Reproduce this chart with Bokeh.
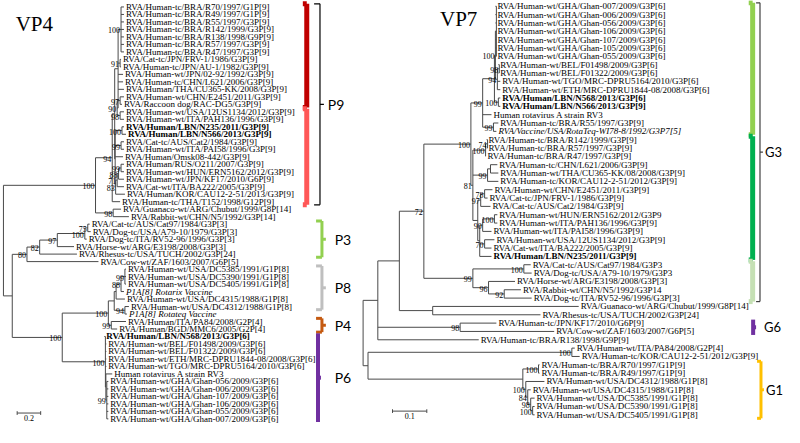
from bokeh.plotting import figure
from bokeh.models import Range1d, ColumnDataSource
from bokeh.embed import file_html
from bokeh.resources import INLINE
from bokeh.core.properties import value

# ---------------- VP4 tree data ----------------
# tips: (label, parent node, depth from root in substitutions/site, font style)
VP4_TIPS = [
    ("RVA/Human-tc/BRA/R70/1997/G1P[9]", "Nbra", 1.025, "normal"),
    ("RVA/Human-tc/BRA/R49/1997/G1P[9]", "Nbra", 1.025, "normal"),
    ("RVA/Human-tc/BRA/R55/1997/G3P[9]", "Nbra", 1.025, "normal"),
    ("RVA/Human-tc/BRA/R142/1999/G3P[9]", "Nbra", 1.025, "normal"),
    ("RVA/Human-tc/BRA/R138/1998/G9P[9]", "Nbra", 1.025, "normal"),
    ("RVA/Human-tc/BRA/R57/1997/G3P[9]", "Nbra", 1.025, "normal"),
    ("RVA/Human-tc/BRA/R47/1997/G3P[9]", "Nbra", 1.025, "normal"),
    ("RVA/Cat-tc/JPN/FRV-1/1986/G3P[9]", "N91", 1.0, "normal"),
    ("RVA/Human-tc/JPN/AU-1/1982/G3P[9]", "N91", 1.0, "normal"),
    ("RVA/Human-wt/JPN/02-92/1992/G3P[9]", "Nup", 1.017, "normal"),
    ("RVA/Human-tc/CHN/L621/2006/G3P[9]", "Nup", 1.017, "normal"),
    ("RVA/Human/THA/CU365-KK/2008/G3P[9]", "Nup", 1.025, "normal"),
    ("RVA/Human-wt/CHN/E2451/2011/G3P[9]", "N97", 1.025, "normal"),
    ("RVA/Raccoon dog/RAC-DG5/G3P[9]", "N97", 1.008, "normal"),
    ("RVA/Human-wt/USA/12US1134/2012/G3P[9]", "N98", 1.025, "normal"),
    ("RVA/Human-wt/ITA/PAH136/1996/G3P[9]", "N98", 1.025, "normal"),
    ("RVA/Human/LBN/N235/2011/G3P[9]", "Nlbn", 1.025, "bold"),
    ("RVA/Human/LBN/N566/2013/G3P[9]", "Nlbn", 1.042, "bold"),
    ("RVA/Cat-tc/AUS/Cat2/1984/G3P[9]", "N99c", 1.025, "normal"),
    ("RVA/Human-wt/ITA/PAI58/1996/G3P[9]", "N99c", 1.025, "normal"),
    ("RVA/Human/Omsk08-442/G3P[9]", "Nlow", 1.017, "normal"),
    ("RVA/Human/RUS/O211/2007/G3P[9]", "N99d", 1.025, "normal"),
    ("RVA/Human-wt/HUN/ERN5162/2012/G3P[9]", "N99d", 1.025, "normal"),
    ("RVA/Human-wt/JPN/KF17/2010/G6P[9]", "N88", 1.025, "normal"),
    ("RVA/Cat-wt/ITA/BA222/2005/G3P[9]", "N71", 1.025, "normal"),
    ("RVA/Human/KOR/CAU12-2-51/2013/G3P[9]", "N83", 1.033, "normal"),
    ("RVA/Human-tc/THA/T152/1998/G12P[9]", "P9", 0.992, "normal"),
    ("RVA/Guanaco-wt/ARG/Chubut/1999/G8P[14]", "Ngr", 1.0, "normal"),
    ("RVA/Rabbit-wt/CHN/N5/1992/G3P[14]", "Ngr", 1.067, "normal"),
    ("RVA/Cat-tc/AUS/Cat97/1984/G3P[3]", "N75", 0.733, "normal"),
    ("RVA/Dog-tc/USA/A79-10/1979/G3P[3]", "N75", 0.742, "normal"),
    ("RVA/Dog-tc/ITA/RV52-96/1996/G3P[3]", "N100p", 0.708, "normal"),
    ("RVA/Horse-wt/ARG/E3198/2008/G3P[3]", "N97p", 0.6, "normal"),
    ("RVA/Rhesus-tc/USA/TUCH/2002/G3P[24]", "N82", 0.625, "normal"),
    ("RVA/Cow-wt/ZAF/1603/2007/G6P[5]", "N80", 0.808, "normal"),
    ("RVA/Human-wt/USA/DC5385/1991/G1P[8]", "N99a", 1.042, "normal"),
    ("RVA/Human-wt/USA/DC5390/1991/G1P[8]", "N99a", 1.042, "normal"),
    ("RVA/Human-wt/USA/DC5405/1991/G1P[8]", "N99a", 1.042, "normal"),
    ("P1A[8] Rotarix Vaccine", "N88p", 1.025, "italic"),
    ("RVA/Human-wt/USA/DC4315/1988/G1P[8]", "Na", 1.033, "normal"),
    ("RVA/Human-wt/USA/DC4312/1988/G1P[8]", "N94p", 1.067, "normal"),
    ("P1A[8] Rotateq Vaccine", "N94p", 1.05, "italic"),
    ("RVA/Human/ITA/PA84/2008/G2P[4]", "NP4", 1.042, "normal"),
    ("RVA/Human/BGD/MMC6/2005/G2P[4]", "NP4", 0.967, "normal"),
    ("RVA/Human/LBN/N568/2013/G3P[6]", "NP6", 0.858, "bold"),
    ("RVA/Human-wt/BEL/F01498/2009/G3P[6]", "NP6", 0.875, "normal"),
    ("RVA/Human-wt/BEL/F01322/2009/G3P[6]", "NP6", 0.875, "normal"),
    ("RVA/Human-wt/ETH/MRC-DPRU1844-08/2008/G3P[6]", "NP6", 0.875, "normal"),
    ("RVA/Human-wt/TGO/MRC-DPRU5164/2010/G3P[6]", "NP6", 0.875, "normal"),
    ("Human rotavirus A strain RV3", "Nrv", 0.925, "normal"),
    ("RVA/Human-wt/GHA/Ghan-056/2009/G3P[6]", "N99g", 0.892, "normal"),
    ("RVA/Human-wt/GHA/Ghan-006/2009/G3P[6]", "N99g", 0.892, "normal"),
    ("RVA/Human-wt/GHA/Ghan-107/2009/G3P[6]", "N99g", 0.892, "normal"),
    ("RVA/Human-wt/GHA/Ghan-106/2009/G3P[6]", "N99g", 0.892, "normal"),
    ("RVA/Human-wt/GHA/Ghan-055/2009/G3P[6]", "N99g", 0.892, "normal"),
    ("RVA/Human-wt/GHA/Ghan-007/2009/G3P[6]", "N99g", 0.892, "normal"),
]

# internal nodes: (name, parent, depth, bootstrap support)
VP4_NODES = [
    ("root", None, 0.0, None),
    ("A", "root", 0.783, "100"),
    ("P9", "A", 0.925, "94"),
    ("P9m", "P9", 0.946, None),
    ("Nup", "P9m", 0.975, None),
    ("Nbra", "Nup", 1.0, "100"),
    ("N91", "Nup", 0.992, "91"),
    ("N90", "Nup", 0.967, "90"),
    ("N97", "N90", 0.992, "97"),
    ("N98", "N90", 0.992, "98"),
    ("Nlow", "P9m", 0.95, None),
    ("Nlbn", "Nlow", 1.008, "100"),
    ("N99c", "Nlow", 1.0, "99"),
    ("N83", "Nlow", 0.954, "83"),
    ("N71", "N83", 0.967, "71"),
    ("N88", "N71", 0.979, "88"),
    ("N99d", "N88", 1.0, "99"),
    ("Ngr", "A", 0.933, "98"),
    ("B", "root", 0.075, None),
    ("N80", "B", 0.2, "80"),
    ("N82", "N80", 0.308, "82"),
    ("N97p", "N82", 0.458, "97"),
    ("N100p", "N97p", 0.692, "100"),
    ("N75", "N100p", 0.717, "75"),
    ("N100c", "B", 0.5, "100"),
    ("N100b", "N100c", 0.892, "100"),
    ("NP8", "N100b", 0.942, None),
    ("Na", "NP8", 0.958, None),
    ("N88p", "Na", 1.0, "88"),
    ("N99a", "N88p", 1.033, "99"),
    ("N94p", "NP8", 1.033, "94"),
    ("NP4", "N100b", 0.917, "99"),
    ("NP6", "N100c", 0.867, "100"),
    ("Nrv", "NP6", 0.871, None),
    ("N99g", "Nrv", 0.879, "99"),
]

# clade marks: (first tip, last tip, colour, kind, label)
VP4_CLADES = [
    (0, 13, "#C00000", "bar", None),
    (14, 26, "#FF5757", "bar", None),
    (0, 26, "#000000", "bracket", "P9"),
    (29, 33, "#92D050", "brace", "P3"),
    (35, 40, "#BFBFBF", "brace", "P8"),
    (42, 43, "#C55A11", "brace", "P4"),
    (44, 55, "#7030A0", "pbar", "P6"),
]
VP4_SCALE = 0.2

# ---------------- VP7 tree data ----------------
VP7_TIPS = [
    ("RVA/Human-wt/GHA/Ghan-007/2009/G3P[6]", "NG", 0.3857, "normal"),
    ("RVA/Human-wt/GHA/Ghan-006/2009/G3P[6]", "NG", 0.3857, "normal"),
    ("RVA/Human-wt/GHA/Ghan-056/2009/G3P[6]", "NG", 0.3857, "normal"),
    ("RVA/Human-wt/GHA/Ghan-106/2009/G3P[6]", "NG", 0.3857, "normal"),
    ("RVA/Human-wt/GHA/Ghan-107/2009/G3P[6]", "NG", 0.3857, "normal"),
    ("RVA/Human-wt/GHA/Ghan-105/2009/G3P[6]", "NG", 0.3857, "normal"),
    ("RVA/Human-wt/GHA/Ghan-055/2009/G3P[6]", "NG", 0.3857, "normal"),
    ("RVA/Human-wt/BEL/F01498/2009/G3P[6]", "N98", 0.3943, "normal"),
    ("RVA/Human-wt/BEL/F01322/2009/G3P[6]", "N98", 0.3943, "normal"),
    ("RVA/Human-wt/TGO/MRC-DPRU5164/2010/G3P[6]", "N94", 0.4, "normal"),
    ("RVA/Human-wt/ETH/MRC-DPRU1844-08/2008/G3P[6]", "N94", 0.4, "normal"),
    ("RVA/Human/LBN/N568/2013/G3P[6]", "N100L", 0.4, "bold"),
    ("RVA/Human/LBN/N566/2013/G3P[9]", "N100L", 0.4, "bold"),
    ("Human rotavirus A strain RV3", "N99", 0.3743, "normal"),
    ("RVA/Human-tc/BRA/R55/1997/G3P[9]", "N99r", 0.3943, "normal"),
    ("RVA/Vaccine/USA/RotaTeq-WI78-8/1992/G3P7[5]", "N99r", 0.3886, "italic"),
    ("RVA/Human-tc/BRA/R142/1999/G3P[9]", "N74", 0.36, "normal"),
    ("RVA/Human-tc/BRA/R57/1997/G3P[9]", "N74", 0.36, "normal"),
    ("RVA/Human-tc/BRA/R47/1997/G3P[9]", "N100br", 0.3571, "normal"),
    ("RVA/Human-tc/CHN/L621/2006/G3P[9]", "Nlc", 0.3914, "normal"),
    ("RVA/Human-wt/THA/CU365-KK/08/2008/G3P[9]", "Nlc", 0.3943, "normal"),
    ("RVA/Human-tc/KOR/CAU12-2-51/2012/G3P[9]", "N99c", 0.3943, "normal"),
    ("RVA/Human-wt/CHN/E2451/2011/G3P[9]", "N78", 0.3771, "normal"),
    ("RVA/Cat-tc/JPN/FRV-1/1986/G3P[9]", "N78", 0.3629, "normal"),
    ("RVA/Cat-tc/AUS/Cat2/1984/G3P[9]", "N97", 0.3714, "normal"),
    ("RVA/Human-wt/HUN/ERN5162/2012/G3P9", "N100e", 0.3914, "normal"),
    ("RVA/Human-wt/ITA/PAH136/1996/G3P[9]", "N100e", 0.3914, "normal"),
    ("RVA/Human-wt/ITA/PAI58/1996/G3P[9]", "N90", 0.3743, "normal"),
    ("RVA/Human-wt/USA/12US1134/2012/G3P[9]", "N70", 0.3829, "normal"),
    ("RVA/Cat-wt/ITA/BA222/2005/G3P[9]", "N70", 0.3743, "normal"),
    ("RVA/Human/LBN/N235/2011/G3P[9]", "NlowG3", 0.3743, "bold"),
    ("RVA/Cat-tc/AUS/Cat97/1984/G3P3", "N100p3", 0.4886, "normal"),
    ("RVA/Dog-tc/USA/A79-10/1979/G3P3", "N100p3", 0.4914, "normal"),
    ("RVA/Horse-wt/ARG/E3198/2008/G3P[3]", "N96", 0.4429, "normal"),
    ("RVA/Rabbit-wt/CHN/N5/1992/G3P14", "N92", 0.46, "normal"),
    ("RVA/Dog-tc/ITA/RV52-96/1996/G3P[3]", "N92", 0.4914, "normal"),
    ("RVA/Guanaco-wt/ARG/Chubut/1999/G8P[14]", "Ngr7", 0.6286, "normal"),
    ("RVA/Rhesus-tc/USA/TUCH/2002/G3P[24]", "Ngr7", 0.5171, "normal"),
    ("RVA/Human-tc/JPN/KF17/2010/G6P[9]", "N98g6", 0.3886, "normal"),
    ("RVA/Cow-wt/ZAF/1603/2007/G6P[5]", "N98g6", 0.5571, "normal"),
    ("RVA/Human-tc/BRA/R138/1998/G9P[9]", "Nup", 0.3371, "normal"),
    ("RVA/Human-wt/ITA/PA84/2008/G2P[4]", "N100g2", 0.6171, "normal"),
    ("RVA/Human-tc/KOR/CAU12-2-51/2012/G3P[9]", "N100g2", 0.6314, "normal"),
    ("RVA/Human-tc/BRA/R70/1997/G1P[9]", "N100r", 0.5143, "normal"),
    ("RVA/Human-tc/BRA/R49/1997/G1P[9]", "N100r", 0.5143, "normal"),
    ("RVA/Human-wt/USA/DC4312/1988/G1P[8]", "N100c7", 0.5286, "normal"),
    ("RVA/Human-wt/USA/DC4315/1988/G1P[8]", "N84", 0.4886, "normal"),
    ("RVA/Human-wt/USA/DC5385/1991/G1P[8]", "N98d", 0.5, "normal"),
    ("RVA/Human-wt/USA/DC5390/1991/G1P[8]", "N100d", 0.5, "normal"),
    ("RVA/Human-wt/USA/DC5405/1991/G1P[8]", "N100d", 0.5, "normal"),
]

VP7_NODES = [
    ("root", None, 0.0, None),
    ("Nup", "root", 0.0429, None),
    ("Na7", "Nup", 0.1057, None),
    ("N72", "Na7", 0.1771, "72"),
    ("N100big", "N72", 0.3143, "100"),
    ("N99", "N100big", 0.3486, "99"),
    ("NG3P6", "N99", 0.3829, None),
    ("NG3P6a", "NG3P6", 0.3857, "100"),
    ("NG", "NG3P6a", 0.3886, None),
    ("N94", "NG3P6a", 0.3914, "94"),
    ("N98", "N94", 0.3971, "98"),
    ("N100L", "NG3P6", 0.3943, "100"),
    ("N99r", "N99", 0.38, "99"),
    ("N81", "N100big", 0.32, "81"),
    ("N100br", "N81", 0.3571, "100"),
    ("N74", "N100br", 0.3629, "74"),
    ("N99c", "N81", 0.3629, "99"),
    ("Nlc", "N99c", 0.3714, None),
    ("NG3mid", "N81", 0.3343, None),
    ("N97", "NG3mid", 0.3429, "97"),
    ("N78", "N97", 0.3543, "78"),
    ("NlowG3", "NG3mid", 0.34, None),
    ("N90", "NlowG3", 0.3486, "90"),
    ("N100e", "N90", 0.3829, "100"),
    ("N70", "NlowG3", 0.3543, "70"),
    ("N99p", "N72", 0.32, "99"),
    ("N100p3", "N99p", 0.4686, "100"),
    ("N96", "N99p", 0.3657, "96"),
    ("N92", "N96", 0.4114, "92"),
    ("Ngr7", "Na7", 0.2029, None),
    ("N98g6", "Nup", 0.2829, "98"),
    ("Nlow7", "root", 0.0143, None),
    ("N100g2", "Nlow7", 0.6086, "100"),
    ("NG1", "Nlow7", 0.4657, None),
    ("N100r", "NG1", 0.5114, "100"),
    ("N100c7", "NG1", 0.4743, "100"),
    ("N84", "N100c7", 0.48, "84"),
    ("N98d", "N84", 0.4886, "98"),
    ("N100d", "N98d", 0.4943, "100"),
]

VP7_CLADES = [
    (0, 15, "#92D050", "bar", None),
    (16, 30, "#00B050", "bar", None),
    (31, 35, "#C5E0B4", "bar", None),
    (0, 35, "#404040", "bracket", "G3"),
    (38, 39, "#7030A0", "pbar", "G6"),
    (43, 49, "#FFC000", "brace", "G1"),
]
VP7_SCALE = 0.1

# ---------------- page geometry (reference px -> tree units) ----------------
W, H = 784, 427
VP4_ROOT_PX, VP4_PX_PER_UNIT = 3.0, 120.0
VP7_ROOT_PX, VP7_PX_PER_UNIT = 370.0, 350.0
VP4_Y0, VP4_DY = 6.7, 7.77
VP7_Y0, VP7_DY = 6.0, 8.65


def ux(px, root, ppu):
    return (px - root) / ppu


def uy(py, y0, dy):
    return (py - y0) / dy


p = figure(width=W, height=H, output_backend="svg", toolbar_location=None,
           title=None, min_border=0, x_axis_location=None, y_axis_location=None,
           x_range=Range1d(ux(0, VP4_ROOT_PX, VP4_PX_PER_UNIT), ux(800, VP4_ROOT_PX, VP4_PX_PER_UNIT)),
           y_range=Range1d(uy(443, VP4_Y0, VP4_DY), uy(0, VP4_Y0, VP4_DY)))
p.extra_x_ranges = {"vp7": Range1d(ux(0, VP7_ROOT_PX, VP7_PX_PER_UNIT), ux(800, VP7_ROOT_PX, VP7_PX_PER_UNIT))}
p.extra_y_ranges = {"vp7": Range1d(uy(443, VP7_Y0, VP7_DY), uy(0, VP7_Y0, VP7_DY))}
p.grid.visible = False
p.outline_line_color = None
p.background_fill_color = "white"
p.border_fill_color = "white"

SERIF = value("Liberation Serif")
SANS = value("Lato")
LINE = "#4a4a4a"


def build(tips, nodes):
    depth, parent, ypos, children = {}, {}, {}, {}
    for name, par, d, sup in nodes:
        depth[name] = d
        parent[name] = par
        if par is not None:
            children.setdefault(par, []).append(name)
    for i, (lab, par, d, sty) in enumerate(tips):
        key = ("tip", i)
        depth[key] = d
        parent[key] = par
        ypos[key] = float(i)
        children.setdefault(par, []).append(key)

    def gety(k):
        if k not in ypos:
            ys = [gety(c) for c in children[k]]
            ypos[k] = (min(ys) + max(ys)) / 2.0
        return ypos[k]

    for name, *_ in nodes:
        gety(name)
    x0, y0, x1, y1 = [], [], [], []
    for k, par in parent.items():
        if par is None:
            continue
        x0.append(depth[par]); x1.append(depth[k]); y0.append(ypos[k]); y1.append(ypos[k])
    for name, ch in children.items():
        ys = [ypos[c] for c in ch]
        x0.append(depth[name]); x1.append(depth[name]); y0.append(min(ys)); y1.append(max(ys))
    seg = dict(x0=x0, y0=y0, x1=x1, y1=y1)
    tip_src = dict(x=[t[2] for t in tips], y=[float(i) for i in range(len(tips))],
                   text=[t[0] for t in tips], style=[t[3] for t in tips])
    sup = [(depth[n], ypos[n], s) for n, par, d, s in nodes if s is not None]
    sup_src = dict(x=[a for a, b, c in sup], y=[b for a, b, c in sup], text=[c for a, b, c in sup])
    return seg, tip_src, sup_src


def draw_tree(tips, nodes, rname):
    kw = {} if rname is None else dict(x_range_name=rname, y_range_name=rname)
    seg, tip_src, sup_src = build(tips, nodes)
    p.segment(x0="x0", y0="y0", x1="x1", y1="y1", source=ColumnDataSource(seg),
              line_color=LINE, line_width=1, **kw)
    p.text(x="x", y="y", text="text", source=ColumnDataSource(tip_src),
           text_font=SERIF, text_font_size=value("9px"), text_font_style="style",
           text_baseline="middle", text_align="left", x_offset=2, text_color="black", **kw)
    p.text(x="x", y="y", text="text", source=ColumnDataSource(sup_src),
           text_font=SERIF, text_font_size=value("8px"), text_baseline="middle",
           text_align="right", x_offset=-1, y_offset=1, text_color="black", **kw)


def draw_clades(clades, rname, cx, label_size, pad=0.42):
    kw = {} if rname is None else dict(x_range_name=rname, y_range_name=rname)
    for first, last, color, kind, label in clades:
        top, bot = first - pad, last + pad
        mid = (top + bot) / 2.0
        if kind == "bar":
            x = cx["bar"]
            p.segment(x0=[x, cx["bar_hook"], cx["bar_hook"]], y0=[top, top, bot],
                      x1=[x, x, x], y1=[bot, top, bot], line_color=color, line_width=5, **kw)
        elif kind == "bracket":
            x = cx["bracket"]
            p.segment(x0=[x, cx["bracket_hook"], cx["bracket_hook"], x],
                      y0=[top, top, bot, mid], x1=[x, x, x, cx["bracket_tick"]],
                      y1=[bot, top, bot, mid], line_color=color, line_width=1.2, **kw)
        elif kind == "brace":
            x = cx["brace"]
            p.segment(x0=[x, cx["brace_hook"], cx["brace_hook"], x],
                      y0=[top, top, bot, mid], x1=[x, x, x, cx["brace_tick"]],
                      y1=[bot, top, bot, mid], line_color=color, line_width=3, **kw)
        elif kind == "pbar":
            x = cx["pbar"]
            p.segment(x0=[x, x], y0=[top, mid], x1=[x, cx["pbar_tick"]], y1=[bot, mid],
                      line_color=color, line_width=4, **kw)
        if label:
            p.text(x=[cx["label_" + kind]], y=[mid], text=[label], text_font=SANS,
                   text_font_size=value(label_size), text_baseline="middle", text_align="left",
                   text_color="black", **kw)


def to4(px):
    return ux(px, VP4_ROOT_PX, VP4_PX_PER_UNIT)


def to7(px):
    return ux(px, VP7_ROOT_PX, VP7_PX_PER_UNIT)


draw_tree(VP4_TIPS, VP4_NODES, None)
draw_tree(VP7_TIPS, VP7_NODES, "vp7")

cx4 = dict(bar=to4(312.5), bar_hook=to4(308.5), bracket=to4(326), bracket_hook=to4(320),
           bracket_tick=to4(330), brace=to4(328), brace_hook=to4(322), brace_tick=to4(332),
           pbar=to4(324), pbar_tick=to4(327), label_bracket=to4(334), label_brace=to4(341),
           label_pbar=to4(341))
cx7 = dict(bar=to7(767.5), bar_hook=to7(763.5), bracket=to7(775), bracket_hook=to7(771),
           bracket_tick=to7(778), brace=to7(776), brace_hook=to7(772), brace_tick=to7(779),
           pbar=to7(768), pbar_tick=to7(771), label_bracket=to7(780), label_brace=to7(781),
           label_pbar=to7(779))
draw_clades(VP4_CLADES, None, cx4, "14px")
draw_clades(VP7_CLADES, "vp7", cx7, "13px")

# titles
p.text(x=[to4(34.5)], y=[uy(24.5, VP4_Y0, VP4_DY)], text=["VP4"], text_font=SERIF,
       text_font_size=value("21px"), text_align="center", text_baseline="middle", text_color="black")
p.text(x=[to7(467.5)], y=[uy(19.5, VP7_Y0, VP7_DY)], text=["VP7"], text_font=SERIF,
       text_font_size=value("21px"), text_align="center", text_baseline="middle", text_color="black",
       x_range_name="vp7", y_range_name="vp7")


# scale bars
def scale_bar(x_start, y, length, tick, rname):
    kw = {} if rname is None else dict(x_range_name=rname, y_range_name=rname)
    xe = x_start + length
    p.segment(x0=[x_start, x_start, xe], y0=[y, y - tick, y - tick], x1=[xe, x_start, xe],
              y1=[y, y + tick, y + tick], line_color=LINE, line_width=1, **kw)
    p.text(x=[x_start + length / 2], y=[y], text=["%g" % length], text_font=SERIF,
           text_font_size=value("8px"), text_align="center", text_baseline="top",
           y_offset=2, text_color="black", **kw)


scale_bar(to4(17), uy(428, VP4_Y0, VP4_DY), VP4_SCALE, 0.25, None)
scale_bar(to7(400), uy(426, VP7_Y0, VP7_DY), VP7_SCALE, 0.22, "vp7")

open("out.html", "w").write(file_html(p, INLINE))
